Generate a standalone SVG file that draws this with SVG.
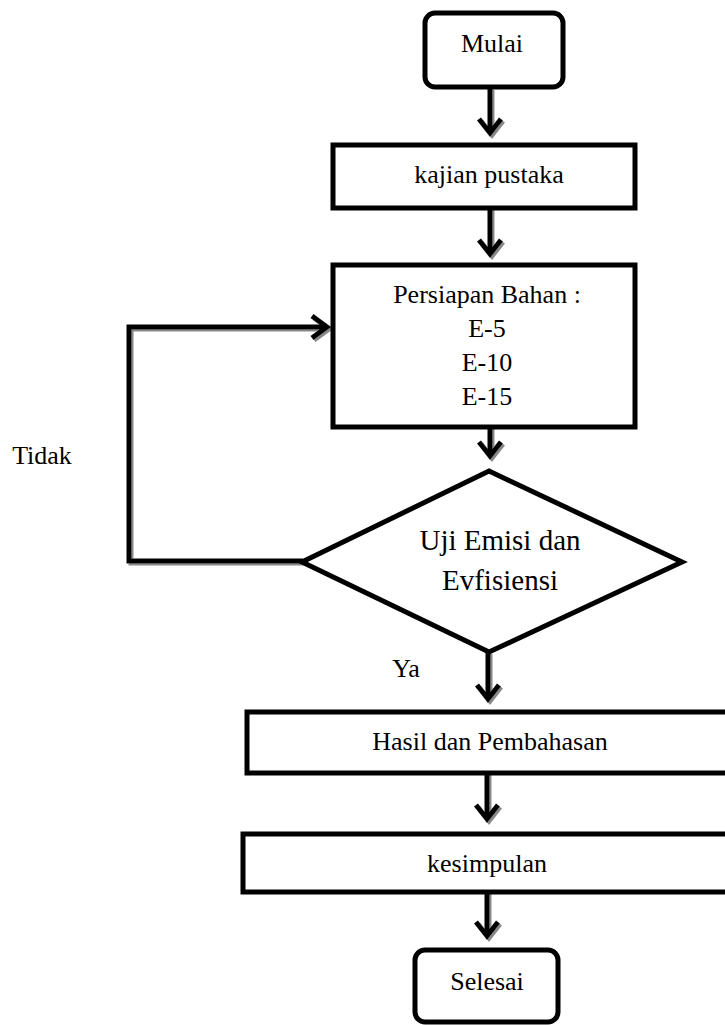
<svg xmlns="http://www.w3.org/2000/svg" width="725" height="1025" viewBox="0 0 725 1025">
<style>
.box{fill:#fff;stroke:#000;stroke-width:5}
.t{font-family:"Liberation Serif","Times New Roman",serif;font-size:26px;fill:#000;text-anchor:middle}
.c{fill:none;stroke:#000;stroke-width:5;stroke-linejoin:miter}
</style>
<defs>
<filter id="sh" x="-20%" y="-20%" width="140%" height="140%">
<feDropShadow dx="2" dy="2" stdDeviation="0.6" flood-color="#888" flood-opacity="1"/>
</filter>
</defs>
<rect width="725" height="1025" fill="#fff"/>
<g id="connectors" filter="url(#sh)">
<path class="c" d="M490 88V133M479 119L490 133L501 119"/>
<path class="c" d="M490 208V254M479 240L490 254L501 240"/>
<path class="c" d="M490 427V456M479 442L490 456L501 442"/>
<path class="c" d="M488 652V699M477 685L488 699L499 685"/>
<path class="c" d="M487 773V819M476 805L487 819L498 805"/>
<path class="c" d="M487 892V936M476 922L487 936L498 922"/>
<path class="c" d="M303 561H129V327H326M312 316L327 327L312 338"/>
</g>
<g id="mulai"><rect class="box" x="425" y="13" width="138" height="74" rx="10"/><text class="t" x="492" y="52">Mulai</text></g>
<g id="kajian"><rect class="box" x="333" y="145" width="302" height="63"/><text class="t" x="489" y="183">kajian pustaka</text></g>
<g id="persiapan"><rect class="box" x="333" y="265" width="302" height="162"/>
<text class="t" x="487" y="303">Persiapan Bahan :</text>
<text class="t" x="487" y="337">E-5</text>
<text class="t" x="487" y="371">E-10</text>
<text class="t" x="487" y="405">E-15</text></g>
<g id="uji"><polygon class="box" points="489,471 682,562 489,652 302,562"/>
<text class="t" x="500" y="550" style="font-size:29px">Uji Emisi dan</text>
<text class="t" x="500" y="590" style="font-size:29px">Evfisiensi</text></g>
<g id="hasil"><rect class="box" x="247" y="712" width="490" height="61"/><text class="t" x="490" y="750">Hasil dan Pembahasan</text></g>
<g id="kesimpulan"><rect class="box" x="243" y="834" width="494" height="58"/><text class="t" x="487" y="872">kesimpulan</text></g>
<g id="selesai"><rect class="box" x="415" y="950" width="143" height="72" rx="10"/><text class="t" x="487" y="990">Selesai</text></g>
<g id="labels"><text class="t" x="42" y="464">Tidak</text><text class="t" x="406" y="677">Ya</text></g>
</svg>
